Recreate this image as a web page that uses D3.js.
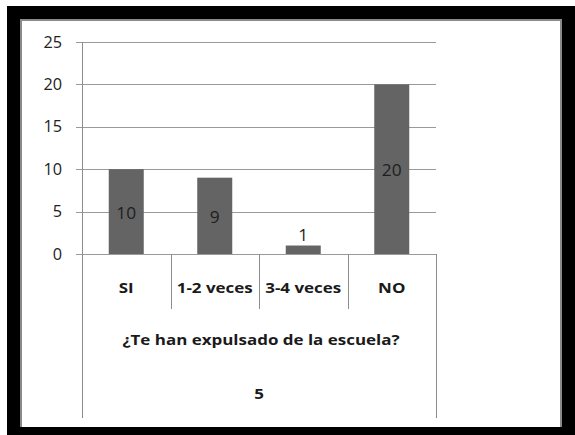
<!DOCTYPE html>
<html>
<head>
<meta charset="utf-8">
<script src="https://cdn.jsdelivr.net/npm/d3@7"></script>
<style>
html,body{margin:0;padding:0;background:#fff;}
svg{display:block;}
</style>
</head>
<body>
<svg id="chart" width="575" height="435"></svg>
<script>
const categories = ["SI", "1-2 veces", "3-4 veces", "NO"];
const values = [10, 9, 1, 20];
const yTicks = [0, 5, 10, 15, 20, 25];
const groupLabel = "¿Te han expulsado de la escuela?";
const subLabel = "5";

(function () {
const svg = d3.select("#chart");
const FONT = "'Open Sans', sans-serif";
const SX = 1.17; // horizontal stretch of the source image text

// frame
svg.append("rect").attr("x", 7).attr("y", 6).attr("width", 568).attr("height", 429).attr("fill", "#000");
svg.append("rect").attr("x", 20).attr("y", 19).attr("width", 542).attr("height", 408).attr("fill", "#8a8a8a");
svg.append("rect").attr("x", 22).attr("y", 21).attr("width", 538).attr("height", 406).attr("fill", "#fff");

const pLeft = 82, pRight = 436, pTop = 42, pBase = 254;
const y = d3.scaleLinear().domain([0, 25]).range([pBase, pTop]);
const x = d3.scaleBand().domain(categories).range([pLeft, pRight])
  .paddingInner(0.6045).paddingOuter(0.30225);
const step = x.step();

const g = svg.append("g");

// gridlines
g.selectAll("line.grid").data(yTicks).enter().append("line")
  .attr("x1", pLeft - 6).attr("x2", pRight)
  .attr("y1", d => Math.round(y(d)) + 0.5).attr("y2", d => Math.round(y(d)) + 0.5)
  .attr("stroke", "#9a9a9a").attr("stroke-width", 1);

// y axis line
g.append("line").attr("x1", pLeft + 0.5).attr("x2", pLeft + 0.5)
  .attr("y1", Math.round(y(25))).attr("y2", 418)
  .attr("stroke", "#8c8c8c");

// y tick labels
g.selectAll("text.ytick").data(yTicks).enter().append("text")
  .attr("transform", d => `translate(62,${y(d)}) scale(1.05,1)`)
  .attr("dy", "0.36em")
  .attr("text-anchor", "end")
  .attr("font-family", FONT).attr("font-size", 15.5)
  .attr("fill", "#222")
  .text(d => d);

// bars
g.selectAll("rect.bar").data(values).enter().append("rect")
  .attr("x", (d, i) => x(categories[i]))
  .attr("width", x.bandwidth())
  .attr("y", d => y(d))
  .attr("height", d => pBase - y(d))
  .attr("fill", "#646464");

// bar value labels
g.selectAll("text.val").data(values).enter().append("text")
  .attr("transform", (d, i) => {
    const cx = x(categories[i]) + x.bandwidth() / 2;
    const cy = (pBase - y(d)) > 20 ? (y(d) + pBase) / 2 + 1 : y(d) - 10;
    return `translate(${cx},${cy}) scale(1.05,1)`;
  })
  .attr("dy", "0.36em")
  .attr("text-anchor", "middle")
  .attr("font-family", FONT).attr("font-size", 16.5)
  .attr("fill", "#1e1e1e")
  .text(d => d);

// category dividers
const bounds = categories.map(c => x(c) + x.bandwidth() / 2 - step / 2).concat([pRight]);
g.selectAll("line.div").data(bounds).enter().append("line")
  .attr("x1", d => Math.round(d) + 0.5).attr("x2", d => Math.round(d) + 0.5)
  .attr("y1", pBase)
  .attr("y2", (d, i) => (i === 0 || i === bounds.length - 1) ? 418 : 309)
  .attr("stroke", "#8c8c8c");

// category labels
g.selectAll("text.cat").data(categories).enter().append("text")
  .attr("transform", c => `translate(${x(c) + x.bandwidth() / 2},288) scale(${SX},1)`)
  .attr("dy", "0.36em")
  .attr("text-anchor", "middle")
  .attr("font-family", FONT).attr("font-size", 14.5).attr("font-weight", "bold")
  .attr("fill", "#1a1a1a")
  .text(c => c);

// group labels
g.append("text").attr("transform", `translate(${(pLeft + pRight) / 2 + 2},340) scale(${SX},1)`)
  .attr("dy", "0.36em")
  .attr("text-anchor", "middle")
  .attr("font-family", FONT).attr("font-size", 14.5).attr("font-weight", "bold")
  .attr("fill", "#1a1a1a").text(groupLabel);
g.append("text").attr("transform", `translate(${(pLeft + pRight) / 2},393.5) scale(${SX},1)`)
  .attr("dy", "0.36em")
  .attr("text-anchor", "middle")
  .attr("font-family", FONT).attr("font-size", 14.5).attr("font-weight", "bold")
  .attr("fill", "#1a1a1a").text(subLabel);
})();
</script>
</body>
</html>
